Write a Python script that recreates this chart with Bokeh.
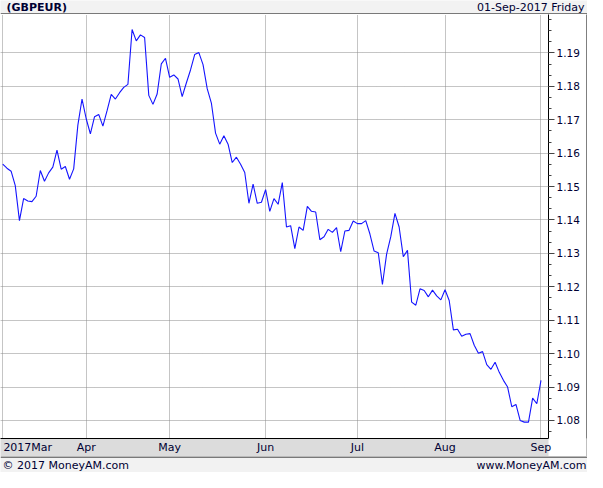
from bokeh.plotting import figure
from bokeh.layouts import column, row
from bokeh.models import (FixedTicker, NumeralTickFormatter, LinearAxis, Range1d)
from bokeh.core.properties import value
from bokeh.embed import file_html
from bokeh.resources import INLINE

# ---- data -------------------------------------------------------------
title_text = "(GBPEUR)"
date_text = "01-Sep-2017 Friday"
footer_left = "\u00a9 2017 MoneyAM.com"
footer_right = "www.MoneyAM.com"

# GBPEUR daily closes (trading days, Mar 2017 .. 1 Sep 2017)
rates = [
    1.1567, 1.1555, 1.1546, 1.1503, 1.1398, 1.1464, 1.1457, 1.1455, 1.1471, 1.1548,
    1.1516, 1.1541, 1.1558, 1.1609, 1.1552, 1.1560, 1.1522, 1.1553, 1.1684, 1.1762,
    1.1703, 1.1658, 1.1709, 1.1716, 1.1681, 1.1727, 1.1776, 1.1762, 1.1781, 1.1797,
    1.1806, 1.1970, 1.1936, 1.1954, 1.1946, 1.1773, 1.1746, 1.1777, 1.1867, 1.1884,
    1.1827, 1.1834, 1.1822, 1.1769, 1.1810, 1.1849, 1.1895, 1.1901, 1.1865, 1.1793,
    1.1750, 1.1660, 1.1627, 1.1652, 1.1627, 1.1572, 1.1588, 1.1567, 1.1542, 1.1450,
    1.1507, 1.1450, 1.1453, 1.1491, 1.1426, 1.1464, 1.1447, 1.1512, 1.1379, 1.1383,
    1.1314, 1.1379, 1.1369, 1.1441, 1.1426, 1.1424, 1.1341, 1.1350, 1.1372, 1.1363,
    1.1377, 1.1305, 1.1367, 1.1369, 1.1397, 1.1389, 1.1389, 1.1398, 1.1358, 1.1307,
    1.1302, 1.1207, 1.1298, 1.1350, 1.1420, 1.1379, 1.1290, 1.1309, 1.1154, 1.1145,
    1.1194, 1.1189, 1.1170, 1.1190, 1.1173, 1.1161, 1.1191, 1.1159, 1.1071, 1.1073,
    1.1052, 1.1058, 1.1060, 1.1025, 1.1001, 1.1006, 1.0967, 1.0953, 1.0974, 1.0944,
    1.0920, 1.0900, 1.0841, 1.0848, 1.0800, 1.0795, 1.0795, 1.0867, 1.0850, 1.0920,
]
# month starts as trading-day positions and their labels
month_pos = [0, 20, 40, 63, 85, 106, 129]
month_labels = ["2017Mar", "Apr", "May", "Jun", "Jul", "Aug", "Sep"]
# right-axis value ticks
y_ticks = [1.08, 1.09, 1.10, 1.11, 1.12, 1.13, 1.14, 1.15, 1.16, 1.17, 1.18, 1.19]

# ---- style / layout ---------------------------------------------------
W = 587
TOP_H = 14
FOOT_H = 16
MAIN_H = 442
RIGHT = 38
FONT = "DejaVu Sans"
TXT = "#000033"
BG = "#f2f2f2"
BANDC = "#dcdcdc"
X0, X1 = -0.54, 130.8
Y0, Y1 = 1.0746, 1.2015


def strip(height, bottom_line):
    f = figure(width=W, height=height, output_backend="svg", toolbar_location=None,
               x_range=Range1d(0, W), y_range=Range1d(height, 0),
               x_axis_location=None, y_axis_location=None,
               min_border=0, min_border_left=0, min_border_right=0,
               min_border_top=0, min_border_bottom=0)
    f.background_fill_color = BG
    f.border_fill_color = BG
    f.outline_line_color = None
    f.xgrid.visible = False
    f.ygrid.visible = False
    yl = height - 0.5 if bottom_line else 0.5
    f.segment(x0=[0], y0=[yl], x1=[W], y1=[yl], line_color="black", line_width=1)
    return f


# title strip
top = strip(TOP_H, True)
top.text(x=[6], y=[7], text=[title_text], text_align="left", text_baseline="middle",
         text_font=value(FONT), text_font_size="11px", text_font_style="bold",
         text_color=TXT)
top.text(x=[W - 3], y=[7], text=[date_text], text_align="right", text_baseline="middle",
         text_font=value(FONT), text_font_size="11px", text_color=TXT)

# footer strip
foot = strip(FOOT_H, False)
foot.text(x=[2], y=[8.5], text=[footer_left], text_align="left", text_baseline="middle",
          text_font=value(FONT), text_font_size="11px", text_color=TXT)
foot.text(x=[W - 1], y=[8.5], text=[footer_right], text_align="right",
          text_baseline="middle", text_font=value(FONT), text_font_size="11px",
          text_color=TXT)

# main chart
p = figure(width=W - 1, height=MAIN_H, output_backend="svg", toolbar_location=None,
           x_range=Range1d(X0, X1), y_range=Range1d(Y0, Y1),
           x_axis_location=None, y_axis_location=None,
           min_border_left=0, min_border_top=0, min_border_right=RIGHT,
           min_border_bottom=0)
p.border_fill_color = "white"
p.background_fill_color = "white"
p.outline_line_color = None

minor = [Y0 + 0.0004 + k * (0.01 / 3) for k in range(40)]
minor = [m for m in [1.07 + k * (0.01 / 3) for k in range(45)] if Y0 <= m <= Y1]
yax = LinearAxis(ticker=FixedTicker(ticks=y_ticks, minor_ticks=minor),
                 formatter=NumeralTickFormatter(format="0.00"))
yax.axis_line_color = "black"
yax.major_tick_line_color = "#444444"
yax.minor_tick_line_color = "#444444"
yax.major_tick_out = 6
yax.major_tick_in = 0
yax.minor_tick_out = 3
yax.minor_tick_in = 0
yax.major_label_standoff = 2
yax.major_label_text_font = FONT
yax.major_label_text_font_size = "10.5px"
yax.major_label_text_color = TXT
yax.background_fill_color = "white"
p.add_layout(yax, "right")

# first label sits to the right of its gridline (left aligned look)
px_per_idx = (W - 1 - RIGHT) / (X1 - X0)
first_lab_pos = month_pos[0] + 25.0 / px_per_idx
xlab_pos = [first_lab_pos] + month_pos[1:]
xax = LinearAxis(ticker=FixedTicker(ticks=xlab_pos),
                 major_label_overrides={pos: lab for pos, lab in zip(xlab_pos, month_labels)})
xax.axis_line_color = "black"
xax.major_tick_line_color = None
xax.minor_tick_line_color = None
xax.major_tick_out = 0
xax.major_tick_in = 0
xax.major_label_standoff = 2
xax.major_label_text_font = FONT
xax.major_label_text_font_size = "11px"
xax.major_label_text_color = TXT
xax.background_fill_color = BANDC
p.add_layout(xax, "below")

p.xgrid.ticker = FixedTicker(ticks=month_pos)
p.ygrid.ticker = FixedTicker(ticks=y_ticks)
for g in (p.xgrid, p.ygrid):
    g.grid_line_color = "#8a8a8a"
    g.grid_line_dash = "1 1"
    g.grid_line_width = 1

p.line(list(range(len(rates))), rates, line_color="#1414ff", line_width=1.1)

# right edge border of the axis column
edge = figure(width=1, height=MAIN_H, output_backend="svg", toolbar_location=None,
              x_axis_location=None, y_axis_location=None, min_border=0,
              min_border_left=0, min_border_right=0, min_border_top=0,
              min_border_bottom=0)
edge.background_fill_color = "black"
edge.border_fill_color = "black"
edge.outline_line_color = None
edge.xgrid.visible = False
edge.ygrid.visible = False

layout = column(top, row(p, edge), foot)
open("out.html", "w").write(file_html(layout, INLINE))
